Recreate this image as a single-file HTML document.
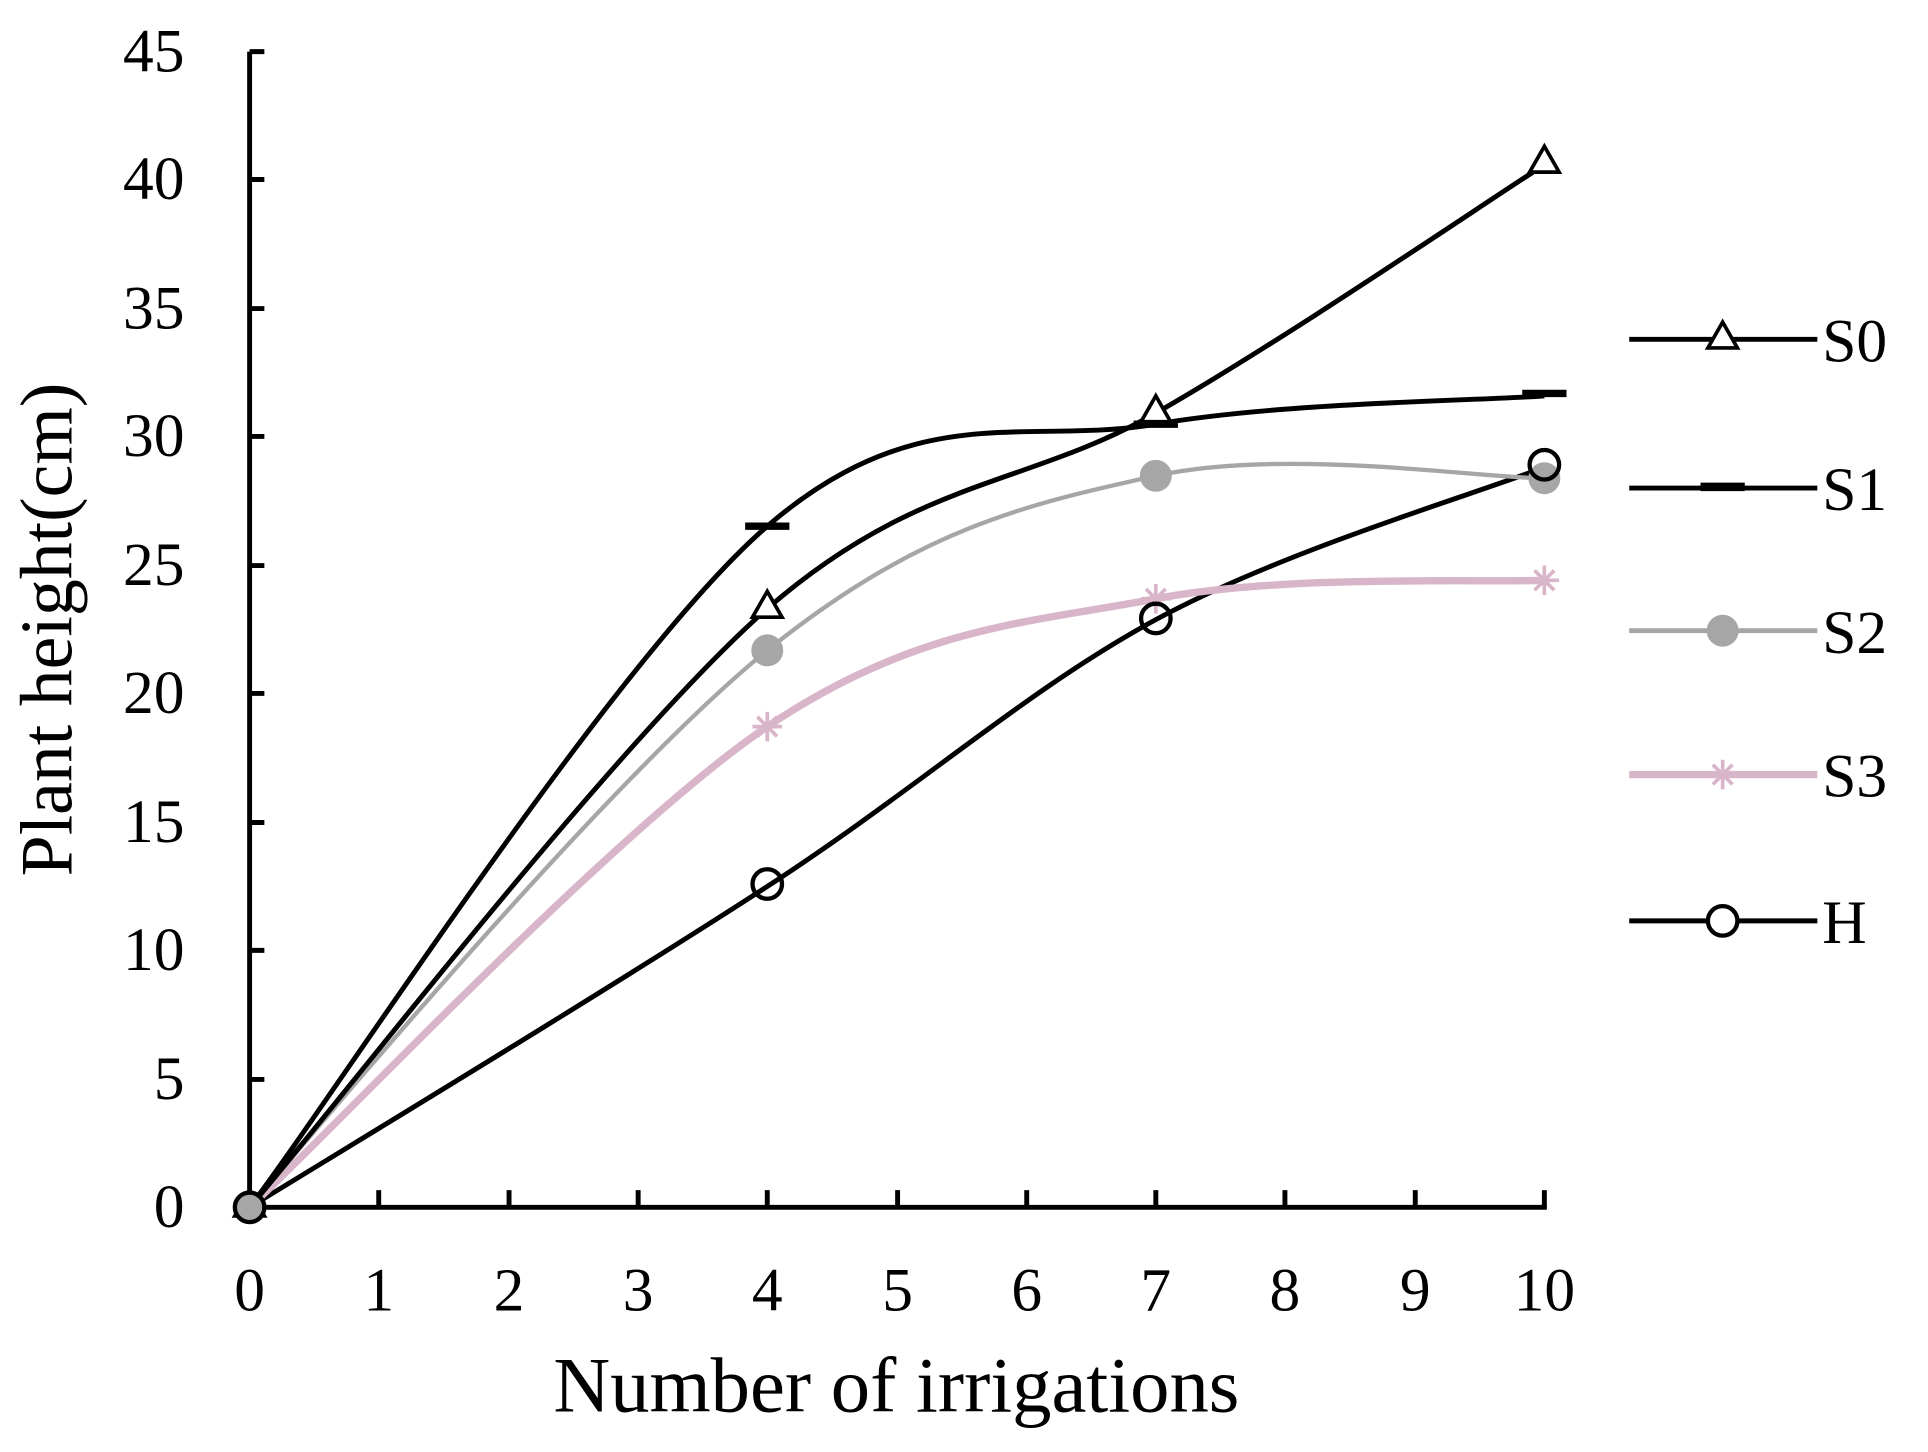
<!DOCTYPE html>
<html><head><style>html,body{margin:0;padding:0;background:#fff}svg{display:block}</style></head>
<body>
<svg width="1928" height="1452" viewBox="0 0 1568 1181" preserveAspectRatio="none" xmlns="http://www.w3.org/2000/svg" font-family="Liberation Serif, serif">
<rect width="1568" height="1181" fill="#fff"/>
<g stroke="#000" stroke-width="4" fill="none">
<line x1="203" y1="42" x2="203" y2="984"/>
<line x1="201" y1="982" x2="1258" y2="982"/>
<path d="M203 42h12M203 146h12M203 251h12M203 355h12M203 460h12M203 564h12M203 669h12M203 773h12M203 878h12"/>
<path d="M308 982v-14M414 982v-14M519 982v-14M624 982v-14M730 982v-14M835 982v-14M940 982v-14M1045 982v-14M1151 982v-14M1256 982v-14"/>
</g>
<g font-size="50" text-anchor="end">
<text x="150" y="58">45</text><text x="150" y="162">40</text><text x="150" y="267">35</text><text x="150" y="371">30</text><text x="150" y="476">25</text><text x="150" y="580">20</text><text x="150" y="685">15</text><text x="150" y="789">10</text><text x="150" y="894">5</text><text x="150" y="998">0</text>
</g>
<g font-size="50" text-anchor="middle">
<text x="203" y="1066">0</text><text x="308" y="1066">1</text><text x="414" y="1066">2</text><text x="519" y="1066">3</text><text x="624" y="1066">4</text><text x="730" y="1066">5</text><text x="835" y="1066">6</text><text x="940" y="1066">7</text><text x="1045" y="1066">8</text><text x="1151" y="1066">9</text><text x="1256" y="1066">10</text>
</g>
<text x="729" y="1148" font-size="64" text-anchor="middle">Number of irrigations</text>
<text transform="translate(58,512) rotate(-90)" font-size="60" text-anchor="middle">Plant height(cm)</text>
<!-- H -->
<path d="M203 982C273 939 501 801 624 721C747 641 835 561 940 504C1045 447 1203 401 1256 380" stroke="#000" stroke-width="4" fill="none"/>
<!-- S3 -->
<path d="M203 982C273 917 501 674 624 591C747 509 835 507 940 487C1045 467 1203 474 1256 472" stroke="#d9b5c9" stroke-width="6" fill="none"/>
<!-- S2 -->
<path d="M203 982C273 900 501 628 624 529C747 430 835 410 940 387C1045 364 1203 389 1256 389" stroke="#a6a6a6" stroke-width="3.5" fill="none"/>
<!-- S1 -->
<path d="M203 982C273 890 501 534 624 428C747 322 835 363 940 345C1045 327 1203 326 1256 322" stroke="#000" stroke-width="4" fill="none"/>
<!-- S0 -->
<path d="M203 982C273 901 501 603 624 495C747 388 835 396 940 336C1045 276 1203 168 1256 134" stroke="#000" stroke-width="4" fill="none"/>
<!-- markers -->
<g fill="#fff" stroke="#000" stroke-width="3">
<path d="M624 481l12 21h-24z"/><path d="M940 322l12 21h-24z"/><path d="M1256 119l12 21h-24z"/><path d="M203 968l12 21h-24z"/>
</g>
<g stroke="#000" stroke-width="6"><path d="M606 428h36M922 345h36M1238 320h36"/></g>
<g fill="#a6a6a6"><circle cx="624" cy="529" r="13"/><circle cx="940" cy="387" r="13"/><circle cx="1256" cy="389" r="13"/><circle cx="203" cy="982" r="13"/></g>
<g stroke="#d9b5c9" stroke-width="3"><path d="M612 591h24M624 579v24M616 583l16 16M632 583l-16 16"/><path d="M928 487h24M940 475v24M932 479l16 16M948 479l-16 16"/><path d="M1244 472h24M1256 460v24M1248 464l16 16M1264 464l-16 16"/></g>
<g fill="none" stroke="#000" stroke-width="3.5"><circle cx="624" cy="719" r="12"/><circle cx="940" cy="503" r="12"/><circle cx="1256" cy="378" r="12"/><circle cx="203" cy="982" r="12"/></g>
<!-- legend -->
<g stroke-width="4" fill="none">
<line x1="1325" y1="276" x2="1478" y2="276" stroke="#000"/>
<line x1="1325" y1="397" x2="1478" y2="397" stroke="#000"/>
<line x1="1325" y1="513" x2="1478" y2="513" stroke="#a6a6a6"/>
<line x1="1325" y1="630" x2="1478" y2="630" stroke="#d9b5c9" stroke-width="6"/>
<line x1="1325" y1="749" x2="1478" y2="749" stroke="#000"/>
</g>
<path d="M1401 262l12 21h-24z" fill="#fff" stroke="#000" stroke-width="3"/>
<path d="M1383 396h36" stroke="#000" stroke-width="7"/>
<circle cx="1401" cy="513" r="13" fill="#a6a6a6"/>
<g stroke="#d9b5c9" stroke-width="3"><path d="M1389 630h24M1401 618v24M1393 622l16 16M1409 622l-16 16"/></g>
<circle cx="1401" cy="749" r="12" fill="#fff" stroke="#000" stroke-width="3.5"/>
<g font-size="50">
<text x="1482" y="294">S0</text><text x="1482" y="415">S1</text><text x="1482" y="531">S2</text><text x="1482" y="648">S3</text><text x="1482" y="767">H</text>
</g>
</svg>
</body></html>
